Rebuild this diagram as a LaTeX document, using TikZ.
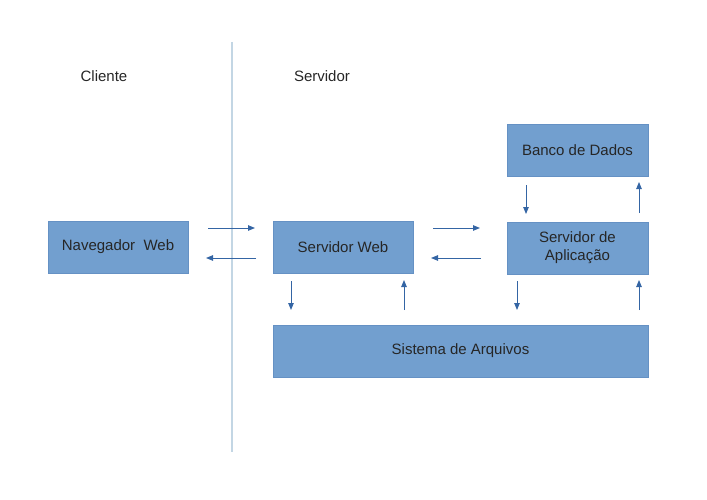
\documentclass[tikz,border=0pt]{standalone}
\usepackage{fontspec}
\setmainfont{Liberation Sans}
\usetikzlibrary{arrows.meta}
\definecolor{boxfill}{HTML}{729FCF}
\definecolor{boxline}{HTML}{6591C4}
\definecolor{arr}{HTML}{3465A4}
\definecolor{sep}{HTML}{C3D6E4}
\begin{document}
\begin{tikzpicture}[x=1pt,y=-1pt,
  blk/.style={draw=boxline,fill=boxfill,line width=0.8pt,inner sep=0pt,
    font=\fontsize{15}{18}\selectfont,text=black!85,align=center},
  lbl/.style={font=\fontsize{15}{18}\selectfont,text=black!85},
  conn/.style={draw=arr,line width=0.9pt,-{Triangle[length=7pt,width=5.5pt]}}]
\useasboundingbox (0,0) rectangle (707,500);
\draw[sep,line width=1.6pt] (232,42) coordinate (t) -- (232,452) coordinate (b);
\node[lbl] (cli) at (104,76) {Cliente};
\node[lbl] (srv) at (322,76) {Servidor};
\node[blk,minimum width=140pt,minimum height=52pt] (nav) at (118,247) {\raisebox{-1.5pt}{Navegador\ \ Web}};
\node[blk,minimum width=140pt,minimum height=52pt] (sw) at (343,247) {\raisebox{-1.5pt}{Servidor Web}};
\node[blk,minimum width=141pt,minimum height=52pt] (sa) at (577.5,248) {Servidor de\\Aplicação};
\node[blk,minimum width=141pt,minimum height=52pt] (bd) at (577.5,150) {\raisebox{-1pt}{Banco de Dados}};
\node[blk,minimum width=375pt,minimum height=52pt] (fs) at (460.5,351) {\raisebox{-1.5pt}{Sistema de Arquivos}};
% horizontal arrows
\coordinate (a1s) at (208,228); \coordinate (a1e) at (255,228);
\draw[conn] (a1s) -- (a1e);
\coordinate (a2s) at (256,258); \coordinate (a2e) at (206,258);
\draw[conn] (a2s) -- (a2e);
\coordinate (a3s) at (433,228); \coordinate (a3e) at (480,228);
\draw[conn] (a3s) -- (a3e);
\coordinate (a4s) at (481,258); \coordinate (a4e) at (431,258);
\draw[conn] (a4s) -- (a4e);
% vertical arrows
\coordinate (v1s) at (291,281); \coordinate (v1e) at (291,310);
\draw[conn] (v1s) -- (v1e);
\coordinate (v2s) at (404,310); \coordinate (v2e) at (404,280);
\draw[conn] (v2s) -- (v2e);
\coordinate (v3s) at (517,281); \coordinate (v3e) at (517,310);
\draw[conn] (v3s) -- (v3e);
\coordinate (v4s) at (639,310); \coordinate (v4e) at (639,280);
\draw[conn] (v4s) -- (v4e);
\coordinate (v5s) at (526,185); \coordinate (v5e) at (526,214);
\draw[conn] (v5s) -- (v5e);
\coordinate (v6s) at (639,213); \coordinate (v6e) at (639,182);
\draw[conn] (v6s) -- (v6e);
\end{tikzpicture}
\end{document}
